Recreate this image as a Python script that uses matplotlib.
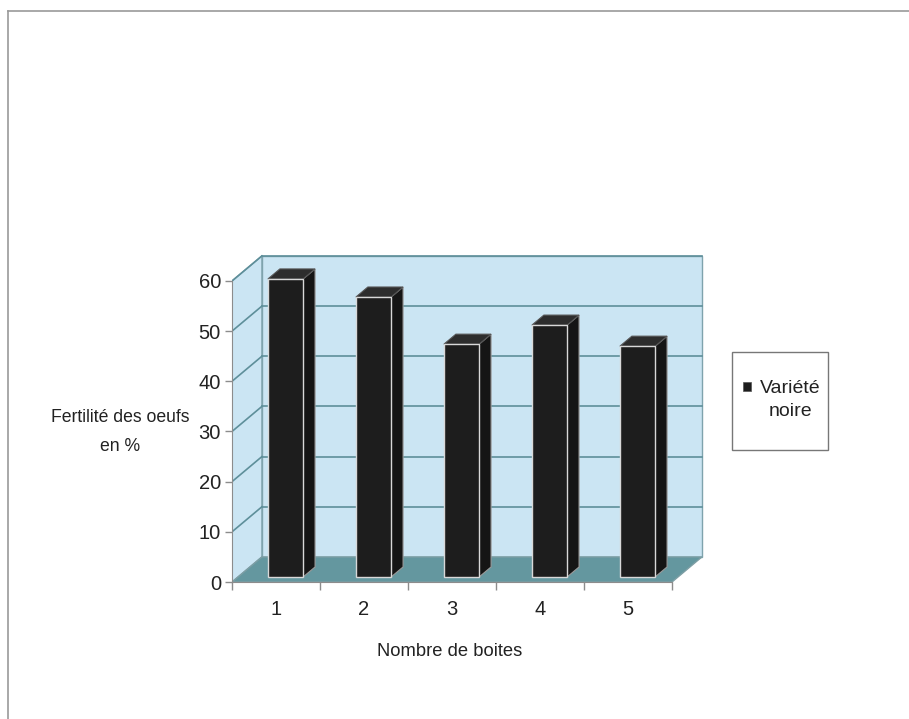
import matplotlib
matplotlib.use('Agg')
import matplotlib.pyplot as plt
from matplotlib.patches import Polygon, Rectangle
from matplotlib.lines import Line2D

# chart data
categories = ['1', '2', '3', '4', '5']
fertility = [59.4, 55.8, 46.4, 50.2, 46.0]
y_ticks = [0, 10, 20, 30, 40, 50, 60]
series_name = 'Variété\nnoire'
y_label = 'Fertilité des oeufs\nen %'
x_label = 'Nombre de boites'

plt.rcParams['font.family'] = ['Liberation Sans', 'DejaVu Sans']

W, H = 909, 719
TEXT_C = '#222222'
AXIS_C = '#8c8c8c'
WALL_C = '#cbe5f3'
WALL_EDGE = '#7fa3ad'
FLOOR_C = '#64979f'
GRID_C = '#5e8f9a'


def fx(px):
    return px / W


def fy(py):
    return 1 - py / H


fig = plt.figure(figsize=(W / 100, H / 100), dpi=100)

# fake 3D: depth offset in data units
n = len(categories)
ymax = y_ticks[-1]
DX, DY = 0.34, 5.0
XLIM, YLIM = n + 0.4, ymax + 6
px_per_x, px_per_y = 88.0, 5.017
left, bottom = 232, 582
ax = fig.add_axes([fx(left), fy(bottom), XLIM * px_per_x / W, YLIM * px_per_y / H])
ax.set_xlim(0, XLIM)
ax.set_ylim(0, YLIM)
ax.patch.set_visible(False)

# walls and floor
ax.add_patch(Polygon([(DX, DY), (n + DX, DY), (n + DX, ymax + DY), (DX, ymax + DY)],
                     fc=WALL_C, ec=WALL_EDGE, lw=1, zorder=0))
ax.add_patch(Polygon([(0, 0), (DX, DY), (DX, ymax + DY), (0, ymax)],
                     fc=WALL_C, ec=WALL_EDGE, lw=1, zorder=0))
for t in y_ticks[1:]:
    ax.plot([DX, n + DX], [t + DY, t + DY], color=GRID_C, lw=1.2, zorder=1)
    ax.plot([0, DX], [t, t + DY], color=GRID_C, lw=1.2, zorder=1)
ax.add_patch(Polygon([(0, 0), (n, 0), (n + DX, DY), (DX, DY)],
                     fc=FLOOR_C, ec='#7d9ea4', lw=1, zorder=2))

# bars
F0, F1 = 0.2, 0.6
BW = 0.4
SHIFT = 0.04
ddx, ddy = (F1 - F0) * DX, (F1 - F0) * DY
for i, v in enumerate(fertility):
    x0 = i + 0.5 - BW / 2 + F0 * DX + SHIFT
    x1 = x0 + BW
    y0 = F0 * DY
    y1 = y0 + v
    ax.add_patch(Polygon([(x1, y0), (x1 + ddx, y0 + ddy), (x1 + ddx, y1 + ddy), (x1, y1)],
                         fc='#151515', ec='#9a9a9a', lw=0.8, zorder=3))
    ax.add_patch(Polygon([(x0, y1), (x1, y1), (x1 + ddx, y1 + ddy), (x0 + ddx, y1 + ddy)],
                         fc='#2d2d2d', ec='#555555', lw=0.8, zorder=3))
    ax.add_patch(Polygon([(x0, y0), (x1, y0), (x1, y1), (x0, y1)],
                         fc='#1d1d1d', ec='#d8d8d8', lw=1.0, zorder=4))

# axes
for s in ['top', 'right']:
    ax.spines[s].set_visible(False)
ax.spines['left'].set_bounds(0, ymax)
ax.spines['bottom'].set_bounds(0, n)
for s in ['left', 'bottom']:
    ax.spines[s].set_color(AXIS_C)
    ax.spines[s].set_zorder(5)

ax.set_yticks(y_ticks)
ax.set_yticklabels([str(t) for t in y_ticks])
ax.tick_params(axis='y', length=5, width=1, color=AXIS_C, pad=3,
               labelsize=14.5, labelcolor=TEXT_C)

ax.set_xticks(range(n + 1))
ax.set_xticklabels([])
ax.set_xticks([i + 0.5 for i in range(n)], minor=True)
ax.set_xticklabels(categories, minor=True)
ax.tick_params(axis='x', which='major', length=6, width=1, color=AXIS_C)
ax.tick_params(axis='x', which='minor', length=0, pad=13,
               labelsize=14.5, labelcolor=TEXT_C)

# titles
fig.text(fx(120), fy(432), y_label, ha='center', va='center', fontsize=12.7,
         color=TEXT_C, linespacing=1.85, multialignment='center')
fig.text(fx(450), fy(651), x_label, ha='center', va='center', fontsize=13.2,
         color=TEXT_C)

# legend box
fig.patches.append(Rectangle((fx(732), fy(450)), (828 - 732) / W, (450 - 352) / H,
                             transform=fig.transFigure, fc='white', ec='#777777', lw=1))
fig.patches.append(Rectangle((fx(743), fy(391)), 8 / W, 9 / H,
                             transform=fig.transFigure, fc='#1d1d1d', ec='#555555', lw=0.5))
fig.text(fx(790), fy(400), series_name, ha='center', va='center', fontsize=14,
         color=TEXT_C, linespacing=1.5, multialignment='center')

# outer frame (scan edge)
fig.lines.append(Line2D([fx(8), fx(8)], [fy(11), 0], transform=fig.transFigure,
                        color='#9a9a9a', lw=1.2))
fig.lines.append(Line2D([fx(8), 1], [fy(11), fy(11)], transform=fig.transFigure,
                        color='#9a9a9a', lw=1.2))

fig.savefig('out.png', dpi=100)
